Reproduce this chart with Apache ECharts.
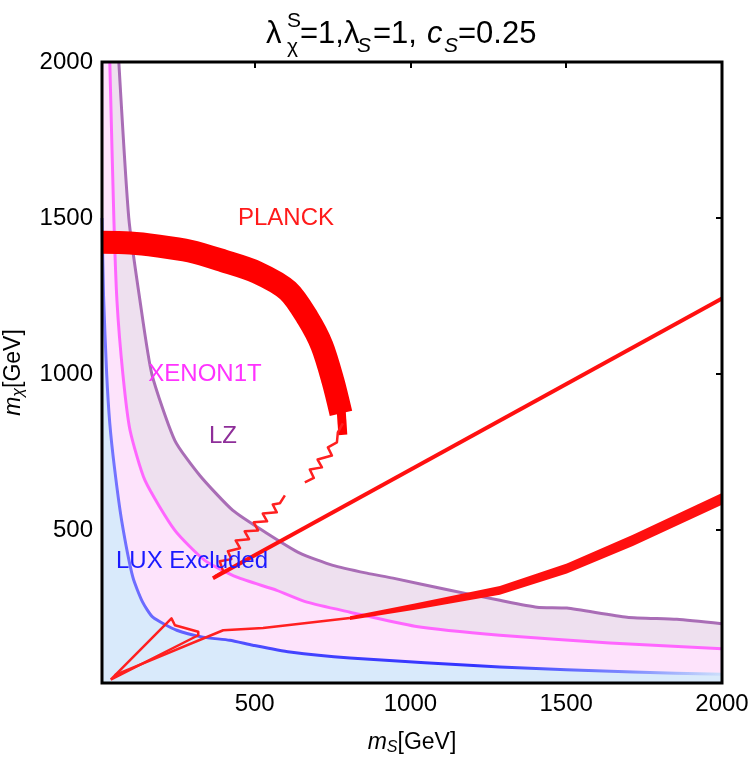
<!DOCTYPE html>
<html>
<head>
<meta charset="utf-8">
<script src="https://cdn.jsdelivr.net/npm/echarts@6/dist/echarts.min.js"></script>
<style>
html,body{margin:0;padding:0;background:#fff}
#main{width:750px;height:757px}
</style>
</head>
<body>
<div id="main"></div>
<script>
var xTicks = [500, 1000, 1500, 2000];
var yTicks = [500, 1000, 1500, 2000];

// direct detection limits, [m_S, m_chi]
var luxCurve = [[10,1500],[15,1250],[25,1000],[35,842],[50,700],[73,531],[109,349],[140,270],[173,221],[250,179],[334,157],[420,147],[494,131],[613,109],[806,90],[1287,61],[1714,45],[2000,38]];
var xenonCurve = [[35,2000],[48,1500],[58,1235],[77,1000],[100,820],[148,659],[244,499],[340,403],[443,349],[571,307],[668,269],[806,237],[1014,192],[1287,163],[1640,138],[2000,120]];
var lzCurve = [[64,2000],[96,1500],[132,1235],[170,1000],[244,787],[324,675],[430,563],[539,490],[645,426],[751,387],[860,362],[944,346],[1127,307],[1287,275],[1406,253],[1502,250],[1695,221],[1855,214],[2000,200]];

// PLANCK relic density
var planckArc = [[10,1422],[100,1420],[186,1411],[292,1394],[398,1363],[507,1326],[607,1267],[671,1178],[716,1091],[751,979],[777,874]];
var planckTip = [[778,880],[783,805]];
var planckZigA = [[783,842],[767,813],[764,781],[735,765],[748,739],[702,726],[716,701],[677,694],[690,667],[661,653]];
var planckZigB = [[597,611],[581,586],[558,582],[571,557],[526,553],[540,528],[497,525],[511,499],[468,496],[482,471],[439,467],[453,442],[414,432],[425,407],[388,400],[399,368],[372,352]];
var planckLine = [[366,346],[2000,1242]];
var planckTriangle = [[38,21],[233,217],[244,195],[319,174],[319,163],[38,21]];
var planckLowThin = [[51,35],[399,179],[527,186],[806,218]];
var planckLowUpper = [[806,224],[1014,265],[1287,321],[1502,393],[1714,485],[2000,619]];
var planckLowLower = [[806,212],[1014,245],[1287,293],[1502,361],[1714,449],[2000,581]];

var FONT = '"Liberation Sans", Arial, sans-serif';
var chart = echarts.init(document.getElementById('main'));

function areaSeries(pts, color, z) {
	return {
		type: 'custom', z: z, silent: true, data: [0],
		renderItem: function (params, api) {
			return {
				type: 'polygon',
				shape: { points: pts.map(function (p) { return api.coord(p); }) },
				style: { fill: color }
			};
		}
	};
}
function lineSeries(pts, color, width, z, smooth) {
	return {
		type: 'line', data: pts, z: z, silent: true, showSymbol: false, smooth: smooth || false,
		lineStyle: { color: color, width: width, cap: 'butt', join: 'round' }
	};
}

var lzArea = [[10,2000]].concat(lzCurve, [[2000,10],[10,10]]);
var xenonArea = [[10,2000]].concat(xenonCurve, [[2000,10],[10,10]]);
var luxArea = luxCurve.concat([[2000,10],[10,10]]);
var planckLowBand = planckLowUpper.concat(planckLowLower.slice().reverse());

var blueGrad = new echarts.graphic.LinearGradient(0, 0, 1, 0, [
	{offset: 0, color: '#7777ff'},
	{offset: 0.3, color: '#4444ff'},
	{offset: 0.6, color: '#3333ff'},
	{offset: 0.85, color: '#7f8cff'},
	{offset: 1, color: '#cfe2fb'}
]);

function axisCommon(ticks, pos, showLabel) {
	return {
		type: 'value', min: 10, max: 2000, position: pos,
		axisLine: { show: false },
		splitLine: { show: false },
		axisTick: { inside: true, length: 6, customValues: ticks, lineStyle: { color: '#000', width: 2 } },
		axisLabel: { show: showLabel, customValues: ticks, fontSize: 24, color: '#000', fontFamily: FONT, margin: 9,
			formatter: function (v) { return String(v); } }
	};
}
var nameRich = {
	i: { fontStyle: 'italic', fontSize: 23, fontFamily: FONT, color: '#000' },
	s: { fontStyle: 'italic', fontSize: 16, fontFamily: FONT, color: '#000', verticalAlign: 'bottom', padding: [10, 0, 0, 0] },
	n: { fontSize: 23, fontFamily: FONT, color: '#000' }
};
var xBottom = axisCommon(xTicks, 'bottom', true);
xBottom.name = '{i|m}{s|S}{n|[GeV]}';
xBottom.nameLocation = 'middle';
xBottom.nameGap = 47;
xBottom.nameTextStyle = { rich: nameRich };
var yLeft = axisCommon(yTicks, 'left', true);
yLeft.name = '{i|m}{s|χ}{n|[GeV]}';
yLeft.nameLocation = 'middle';
yLeft.nameGap = 75;
yLeft.nameTextStyle = { rich: nameRich };

function titlePiece(txt, x, y, size, italic) {
	return {
		type: 'text', x: x, y: y, silent: true,
		style: { text: txt, fill: '#000', font: (italic ? 'italic ' : '') + size + 'px ' + FONT, verticalAlign: 'middle', align: 'left' }
	};
}
function label(txt, x, y, color) {
	return {
		type: 'text', x: x, y: y, silent: true, z: 10,
		style: { text: txt, fill: color, font: '24px ' + FONT, verticalAlign: 'middle', align: 'center' }
	};
}

var option = {
	animation: false,
	backgroundColor: '#fff',
	grid: { left: 102, right: 28, top: 62, bottom: 74, containLabel: false, outerBoundsMode: 'none',
		show: true, borderColor: '#000', borderWidth: 3, backgroundColor: 'transparent', z: 5 },
	xAxis: [xBottom, axisCommon(xTicks, 'top', false)],
	yAxis: [yLeft, axisCommon(yTicks, 'right', false)],
	graphic: [
		titlePiece('λ', 266, 34, 31),
		titlePiece('S', 287, 21, 21),
		titlePiece('χ', 287, 47, 21),
		titlePiece('=1,λ', 300, 34, 31),
		titlePiece('S', 357, 46, 21, true),
		titlePiece('=1,', 373, 34, 31),
		titlePiece('c', 427, 34, 31, true),
		titlePiece('S', 444, 46, 21, true),
		titlePiece('=0.25', 458, 34, 31),
		label('PLANCK', 286, 218, '#ff1a1a'),
		label('XENON1T', 205, 374, '#ff33ff'),
		label('LZ', 223, 436, '#8e2e99'),
		label('LUX Excluded', 192, 561, '#1a1aff')
	],
	series: [
		areaSeries(lzArea, '#eee0ef', 1),
		areaSeries(xenonArea, '#fde3fb', 1),
		areaSeries(luxArea, '#d9eafb', 1),
		lineSeries(lzCurve, '#a96db6', 3, 2, 0.2),
		lineSeries(xenonCurve, '#ff66ff', 3, 2, 0.2),
		lineSeries(luxCurve, blueGrad, 3, 2, 0.2),
		areaSeries(planckLowBand, '#ff1010', 3),
		lineSeries(planckArc, '#ff0000', 23, 3, 0.3),
		lineSeries(planckTip, '#ff0000', 9, 3),
		lineSeries(planckZigA, '#ff2020', 2.5, 3),
		lineSeries(planckZigB, '#ff2020', 2.5, 3),
		lineSeries(planckLine, '#ff1010', 4, 3),
		lineSeries(planckTriangle, '#ff2020', 2.5, 3),
		lineSeries(planckLowThin, '#ff2020', 2.5, 3)
	]
};
chart.setOption(option);
</script>
</body>
</html>
